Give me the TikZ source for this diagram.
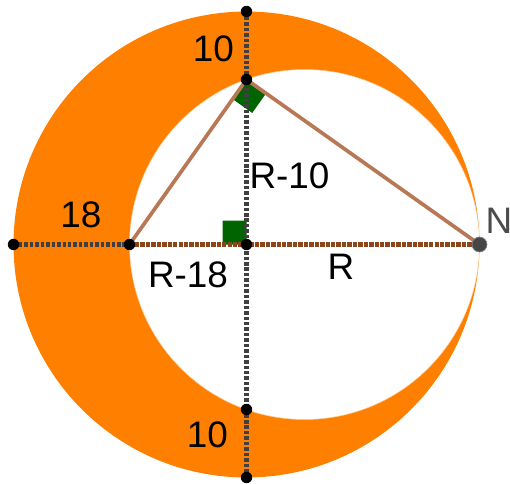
\documentclass[tikz,border=0pt]{standalone}
\usepackage{fontspec}
\setmainfont{Liberation Sans}
\usetikzlibrary{calc}
\definecolor{ringorange}{RGB}{255,128,0}
\definecolor{sidebrown}{RGB}{185,120,85}
\definecolor{basebrown}{RGB}{140,70,30}
\definecolor{markgreen}{RGB}{0,100,0}
\definecolor{dotgray}{RGB}{70,70,70}

\begin{document}
\begin{tikzpicture}[
  x=0.02cm, y=-0.02cm,
  guide/.style={line width=2.3pt, black!75, dash pattern=on 2pt off 1.1pt},
  base/.style={line width=2.3pt, basebrown, dash pattern=on 2.5pt off 0.6pt},
  side/.style={line width=2.1pt, sidebrown},
  pt/.style={circle, fill=black, inner sep=0pt, minimum size=6.5pt},
  lbl/.style={font=\fontsize{21}{24}\selectfont, inner sep=0pt},
  rightmark/.style={fill=markgreen},
]
\useasboundingbox (0,0) rectangle (510,483);

% Points
\coordinate (O) at (246.5,244.5);
\coordinate (T) at (246.5,11.5);
\coordinate (V) at (246.5,79.5);
\coordinate (W) at (246.5,409.5);
\coordinate (B) at (246.5,477.5);
\coordinate (L) at (13.5,244.5);
\coordinate (A) at (129.5,244.5);
\coordinate (N) at (479.5,244.5);
\coordinate (I) at (304.5,244.5);

% Ring
\fill[ringorange] (O) circle[radius=4.66cm];
\filldraw[fill=white, draw=ringorange!40, line width=0.3pt] (I) circle[radius=3.5cm];

% Right angles
\fill[rightmark] (O) -- ($(O)!0.48cm!(A)$) -- ($(O)!0.48cm!(A)+(0,-24)$) -- ($(O)!0.48cm!(T)$) -- cycle;
\fill[rightmark] (V) -- ($(V)!0.48cm!(A)$) -- ($(V)!0.48cm!(A)+(V)!0.48cm!(N)-(V)$) -- ($(V)!0.48cm!(N)$) -- cycle;

% Triangle
\draw[side] (A) -- (V) -- (N);

% Guides
\draw[guide] (T) -- (B);
\draw[guide] (L) -- (A);
\draw[base] (A) -- (N);

% Dots
\foreach \p in {T,V,W,B,L,A,O}
  \node[pt] (dot\p) at (\p) {};
\node[pt, fill=dotgray, draw=black!50, line width=0.4pt, minimum size=8.5pt] (dotN) at (N) {};

% Labels
\node[lbl] (topten) at (213.5,48.5) {10};
\node[lbl] (botten) at (207.5,435) {10};
\node[lbl] (eighteen) at (81,214.5) {18};
\node[lbl] (rten) at (289.5,175.5) {R-10};
\node[lbl] (reighteen) at (188,274.5) {R-18};
\node[lbl] (rr) at (341,266.5) {R};
\node[lbl, text=black!70] (nn) at (499,221) {N};
\end{tikzpicture}
\end{document}
